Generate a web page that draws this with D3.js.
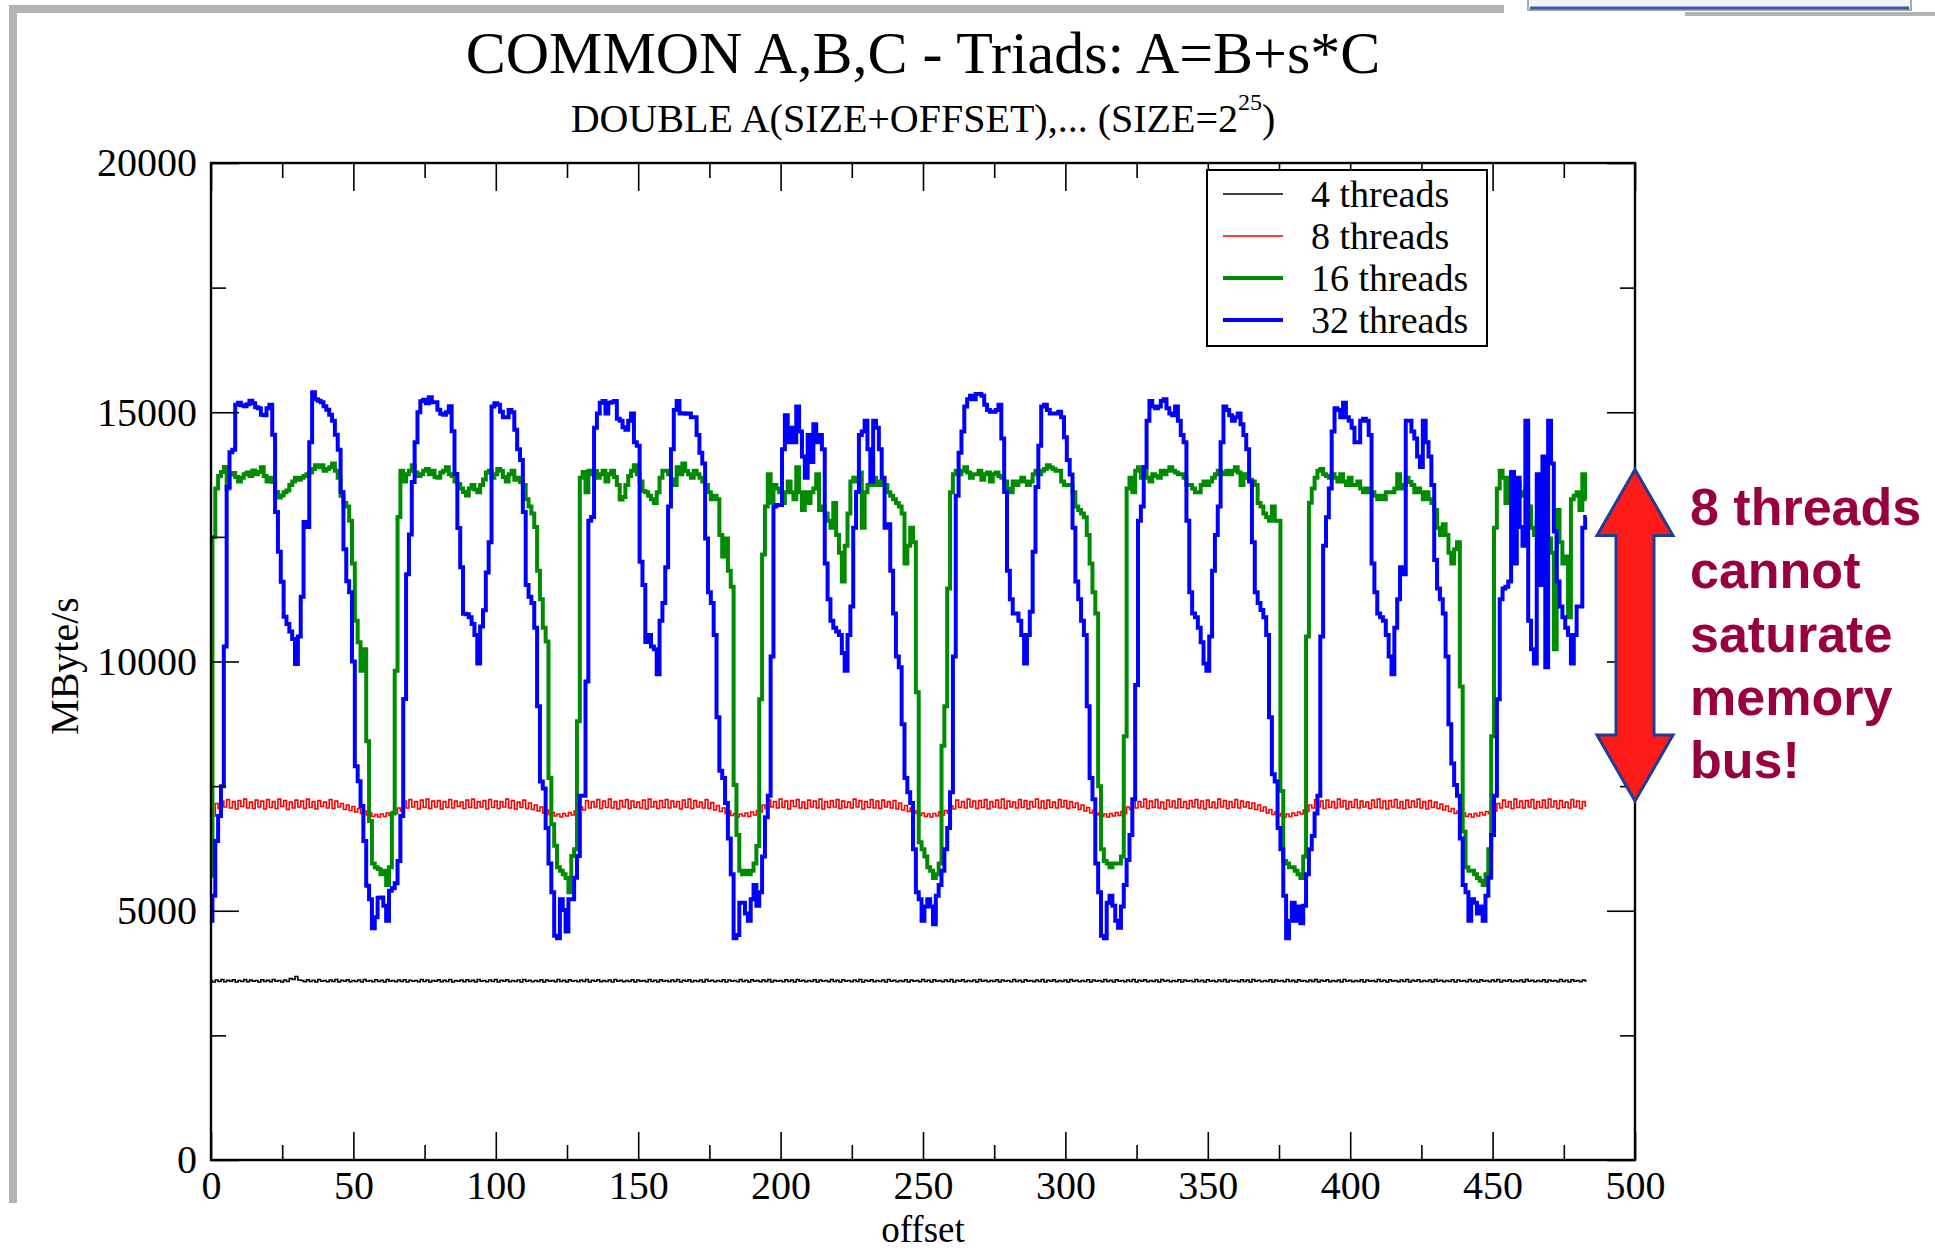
<!DOCTYPE html>
<html><head><meta charset="utf-8">
<script src="https://cdn.jsdelivr.net/npm/d3@7"></script>
<style>html,body{margin:0;padding:0;background:#fff;} svg{display:block;}</style>
</head><body>
<svg id="chart" width="1935" height="1250"></svg>
<script>
// ---------------- DATA ----------------
const seriesNames = ["4 threads", "8 threads", "16 threads", "32 threads"];
const xTickValues = [0, 50, 100, 150, 200, 250, 300, 350, 400, 450, 500];
const xMinorTicks = [25, 75, 125, 175, 225, 275, 325, 375, 425, 475];
const yTickValues = [0, 5000, 10000, 15000, 20000];
const yMinorTicks = [2500, 7500, 12500, 17500];
const annotationLines = ["8 threads", "cannot", "saturate", "memory", "bus!"];
const annotationRange = [7200, 13850];

const threads4 = [
3600,3570,3610,3580,3620,3575,3605,3585,3615,3570,3600,3580,3620,3575,3610,3585,3600,3570,3615,3580,
3605,3575,3620,3585,3600,3570,3610,3580,3640,3620,3680,3610,3600,3575,3615,3580,3605,3570,3620,3585,
3600,3575,3610,3580,3620,3570,3605,3585,3615,3575,3600,3580,3610,3570,3620,3585,3600,3575,3615,3580,
3605,3570,3620,3585,3600,3575,3610,3580,3615,3570,3605,3585,3600,3575,3620,3580,3610,3570,3600,3585,
3615,3575,3605,3580,3620,3570,3600,3585,3610,3575,3615,3580,3605,3570,3620,3585,3600,3575,3610,3580,
3620,3570,3605,3585,3615,3575,3600,3580,3610,3570,3620,3585,3605,3575,3600,3580,3615,3570,3610,3585,
3600,3575,3620,3580,3605,3570,3615,3585,3600,3575,3610,3580,3620,3570,3605,3585,3615,3575,3600,3580,
3610,3570,3620,3585,3605,3575,3600,3580,3615,3570,3610,3585,3600,3575,3620,3580,3605,3570,3615,3585,
3600,3575,3610,3580,3620,3570,3605,3585,3615,3575,3600,3580,3610,3570,3620,3585,3605,3575,3600,3580,
3615,3570,3610,3585,3600,3575,3620,3580,3605,3570,3615,3585,3600,3575,3610,3580,3620,3570,3605,3585,
3600,3575,3615,3580,3610,3570,3620,3585,3605,3575,3600,3580,3615,3570,3610,3585,3600,3575,3620,3580,
3605,3570,3615,3585,3600,3575,3610,3580,3620,3570,3605,3585,3615,3575,3600,3580,3610,3570,3620,3585,
3605,3575,3600,3580,3615,3570,3610,3585,3600,3575,3620,3580,3605,3570,3615,3585,3600,3575,3610,3580,
3620,3570,3605,3585,3615,3575,3600,3580,3610,3570,3620,3585,3605,3575,3600,3580,3615,3570,3610,3585,
3600,3575,3620,3580,3605,3570,3615,3585,3600,3575,3610,3580,3620,3570,3605,3585,3615,3575,3600,3580,
3610,3570,3620,3585,3605,3575,3600,3580,3615,3570,3610,3585,3600,3575,3620,3580,3605,3570,3615,3585,
3600,3575,3610,3580,3620,3570,3605,3585,3615,3575,3600,3580,3610,3570,3620,3585,3605,3575,3600,3580,
3615,3570,3610,3585,3600,3575,3620,3580,3605,3570,3615,3585,3600,3575,3610,3580,3620,3570,3605,3585,
3600,3575,3615,3580,3610,3570,3620,3585,3605,3575,3600,3580,3615,3570,3610,3585,3600,3575,3620,3580,
3605,3570,3615,3585,3600,3575,3610,3580,3620,3570,3605,3585,3615,3575,3600,3580,3610,3570,3620,3585,
3605,3575,3600,3580,3615,3570,3610,3585,3600,3575,3620,3580,3605,3570,3615,3585,3600,3575,3610,3580,
3620,3570,3605,3585,3615,3575,3600,3580,3610,3570,3620,3585,3605,3575,3600,3580,3615,3570,3610,3585,
3600,3575,3620,3580,3605,3570,3615,3585,3600,3575,3610,3580,3620,3570,3605,3585,3615,3575,3600,3580,
3610,3570,3620,3585,3605,3575,3600,3580,3615,3570,3610,3585,3600,3575,3620,3580,3605,3570,3615,3585,
3600,3575,3610,3590];

const threads8 = [
7000,6900,7150,7050,7200,7080,7230,7060,7190,7040,7210,7090,7240,7060,7180,7050,7220,7080,7200,7040,
7230,7070,7190,7050,7240,7090,7210,7030,7180,7060,7220,7080,7200,7050,7240,7070,7190,7040,7210,7090,
7180,7060,7230,7050,7200,7080,7150,7030,7120,7010,7090,6980,7050,6950,7000,6920,6960,6890,6930,6880,
6940,6890,6960,6910,6990,6950,7060,7000,7200,7060,7230,7080,7190,7040,7220,7070,7240,7050,7200,7080,
7210,7040,7190,7070,7230,7060,7200,7090,7180,7050,7220,7070,7240,7060,7190,7080,7210,7040,7230,7070,
7200,7050,7190,7080,7240,7060,7210,7040,7180,7070,7220,7050,7160,7030,7120,7000,7080,6960,7020,6930,
6970,6900,6940,6880,6950,6900,6970,6920,7000,6960,7080,7020,7210,7060,7190,7080,7230,7050,7200,7070,
7240,7060,7190,7040,7210,7080,7230,7050,7200,7070,7180,7060,7220,7040,7240,7080,7190,7050,7210,7070,
7230,7060,7200,7080,7190,7040,7220,7070,7240,7050,7210,7080,7180,7060,7230,7050,7170,7020,7110,6990,
7060,6950,7000,6910,6950,6880,6940,6900,6960,6890,6980,6920,7010,6980,7120,7050,7220,7080,7190,7060,
7240,7070,7200,7040,7210,7090,7230,7060,7180,7050,7220,7080,7200,7060,7240,7040,7190,7070,7210,7080,
7230,7050,7200,7070,7180,7060,7240,7080,7210,7040,7190,7070,7230,7060,7200,7050,7220,7080,7190,7060,
7210,7040,7160,7020,7110,6990,7060,6950,7000,6910,6960,6890,6940,6880,6950,6900,6980,6920,7010,6960,
7100,7040,7220,7070,7190,7060,7240,7080,7200,7050,7210,7070,7230,7040,7190,7080,7220,7060,7240,7050,
7200,7080,7180,7060,7230,7070,7210,7040,7190,7080,7240,7060,7200,7050,7220,7070,7180,7060,7230,7080,
7210,7050,7190,7070,7160,7030,7120,7000,7070,6960,7010,6920,6960,6890,6940,6880,6950,6900,6970,6910,
6990,6950,7080,7030,7210,7060,7190,7080,7240,7050,7200,7070,7230,7060,7180,7040,7220,7080,7200,7060,
7240,7070,7190,7050,7210,7080,7230,7060,7200,7040,7220,7070,7180,7060,7240,7080,7210,7050,7190,7070,
7230,7060,7200,7080,7180,7050,7160,7030,7120,7000,7080,6960,7030,6930,6980,6900,6950,6880,6940,6890,
6960,6910,6980,6940,7020,6990,7120,7060,7230,7080,7200,7050,7220,7070,7190,7060,7240,7080,7210,7040,
7190,7070,7230,7060,7200,7080,7180,7050,7220,7070,7240,7060,7200,7040,7210,7080,7230,7060,7190,7050,
7220,7070,7200,7080,7240,7060,7190,7040,7210,7070,7180,7050,7140,7020,7100,6990,7050,6950,7000,6910,
6960,6890,6940,6880,6950,6900,6970,6920,6990,6950,7040,7000,7150,7060,7220,7080,7190,7050,7240,7070,
7200,7060,7210,7080,7230,7050,7190,7070,7220,7060,7240,7080,7200,7050,7210,7070,7180,7060,7230,7080,
7200,7050,7190,7100];

const threads16 = [
5700,12500,13470,13720,13800,13900,13470,13750,13780,13700,
13612,13684,13756,13790,13720,13830,13756,13800,13899,13720,
13612,13684,13600,13400,13290,13330,13397,13430,13541,13612,
13684,13648,13684,13720,13756,13792,13863,13935,13899,13935,
13827,13863,13899,13971,13827,13684,13326,13182,13111,12824,
11965,10818,10388,9815,10245,8400,6800,5946,5874,5840,
5731,5800,5516,5874,6949,9815,12900,13827,13612,13756,
13827,13935,13792,13720,13756,13827,13863,13756,13827,13700,
13684,13792,13827,13899,13756,13720,13612,13560,13470,13400,
13330,13469,13541,13450,13397,13541,13650,13792,13827,13684,
13756,13860,13827,13700,13612,13756,13827,13648,13684,13600,
13541,13254,13111,12968,12700,11821,11248,10675,10400,7665,
6734,6304,5874,5803,5731,5659,5373,6100,6232,8800,
13684,13800,13397,13827,13756,13820,13684,13756,13827,13612,
13756,13827,13700,13541,13250,13300,13541,13720,13827,13935,
13756,13612,13420,13397,13326,13254,13182,13397,13684,13827,
13827,13756,13650,13541,13899,13756,13971,13820,13756,13684,
13827,13756,13684,13612,13541,13397,13254,13326,13254,12538,
12108,12466,11821,11500,7522,6519,5803,5731,5803,5731,
5803,5946,6300,9242,12144,13111,13756,13185,13541,13470,
13397,13182,13397,13612,13397,13254,13899,13397,13039,13397,
13182,13397,13469,13756,13039,13111,12968,12824,12681,13182,
12538,12180,11606,12323,12968,13612,13684,13612,13792,12681,
13397,13541,13541,13684,13541,13612,13541,13541,13397,13326,
13254,13182,13111,12968,11965,12323,12681,12394,9385,6376,
6232,6089,5874,5803,5659,5731,5946,8310,9100,11463,
13397,13756,13827,13756,13827,13899,13792,13684,13756,13756,
13827,13648,13756,13792,13612,13756,13792,13720,13684,13612,
13469,13397,13612,13541,13612,13684,13612,13541,13612,13756,
13827,13756,13827,13863,13935,13899,13863,13827,13827,13612,
13541,13541,13541,13397,13111,13039,12968,12896,12538,11965,
11391,10962,7500,6232,6000,5946,5874,5946,5946,5946,
6089,8500,13470,13684,13397,13827,13899,13684,13827,13684,
13612,13756,13720,13684,13827,13756,13827,13899,13827,13792,
13756,13756,13684,13541,13541,13469,13397,13397,13541,13612,
13541,13612,13684,13756,13827,13792,13756,13827,13756,13827,
13899,13792,13541,13756,13684,13648,13612,13541,13182,13111,
12968,12896,12824,13111,12824,12824,7400,6000,5946,5874,
5874,5803,5731,5659,6089,10500,13183,13469,13684,13827,
13863,13756,13720,13684,13756,13684,13612,13756,13612,13541,
13684,13541,13541,13612,13469,13397,13469,13397,13397,13326,
13254,13326,13254,13397,13397,13397,13469,13756,13469,13541,
13684,13600,13541,13397,13469,13397,13254,13397,13254,13182,
13039,12681,12538,12753,12538,12180,11965,12251,12394,9500,
6590,5874,5803,5803,5731,5659,5600,5516,5731,6232,
8500,12681,13469,13827,13684,13182,13684,13756,13612,13541,
13397,13326,13469,13111,12681,12538,12824,12681,12538,12681,
12466,12180,10245,13039,12394,11965,12108,10890,13254,13326,
13397,13039,13756,13254];

const threads32 = [
4800,5300,6400,6900,7500,10300,13500,14200,14250,15150,
15190,15140,15120,15160,15230,15180,15100,15080,14950,14940,
15080,15150,14550,13000,12200,11600,10900,10750,10600,10450,
9950,10500,11300,12800,12700,14400,15400,15260,15230,15200,
15120,15050,14950,14830,14550,14250,13400,12250,11610,11390,
10000,7900,7600,7100,6400,5500,5230,4650,4870,5260,
5265,5100,4800,5400,5450,5550,6000,6900,9250,11750,
12550,13600,14400,15000,15220,15250,15180,15300,15200,15200,
15050,14970,14950,15000,15120,14620,13760,12680,11890,10960,
10950,10890,10750,10530,9960,10700,11030,11785,12394,15117,
15180,15150,15010,14900,14900,15045,15000,14650,14257,14040,
13000,11535,11300,11176,10675,9100,7594,7450,6660,5946,
5373,4500,4450,5230,5015,4585,5230,5230,5660,6100,
7307,7307,9600,12824,12900,14687,14974,15190,15225,14974,
15190,15200,15225,14870,14830,14700,14650,14830,14974,14400,
14330,12000,11535,10390,10530,10300,10245,9744,10818,11176,
11893,13111,14257,15045,15225,14974,14980,14970,14974,14900,
14900,14544,14186,13970,12466,11391,11176,10532,8884,7809,
7665,7164,6448,5730,4450,4513,5158,5158,4943,4800,
5229,5516,5100,5373,6090,6877,7307,10100,13111,13140,
13140,14257,14938,14400,14687,14400,15117,14616,14114,13684,
14544,14000,14758,14400,14544,14257,11965,11248,10818,10675,
10600,10532,10173,9815,10532,11105,12681,13400,14544,14616,
14830,14257,13612,14830,14687,14257,13684,12681,12753,11821,
10961,10102,9887,8740,7665,7379,7164,6232,5373,5229,
4800,5086,5229,5086,4728,5302,5516,5803,6232,6662,
7379,10102,13326,14186,14616,15117,15260,15332,15260,15368,
15368,15332,15150,15045,15010,15010,15045,15150,14472,13400,
11821,11248,10961,10961,10818,10532,9958,10532,11000,12200,
13500,14329,15117,15150,15045,14974,14974,14974,15010,14900,
14500,14040,13750,12681,11606,11248,10818,10532,9100,7665,
7236,5946,5373,4500,4450,5158,5300,5100,4800,4657,
5086,5516,6017,6520,7236,9528,12824,13111,13900,14830,
15225,15117,15081,15117,15225,15260,15081,14974,14938,15117,
14830,14544,14400,12824,11391,10962,10890,10675,10388,9958,
9815,10500,11821,12537,13111,14400,15117,15045,14938,14830,
14900,14974,14760,14544,14257,13612,12394,11391,11176,11033,
10890,10532,8884,7737,7594,6662,6232,5302,4450,4800,
5158,4800,5086,4750,5100,5730,6232,6500,6950,7307,
10500,12323,12896,13470,14616,15081,15045,14900,15190,14900,
14830,14690,14400,14400,14830,14870,14830,14544,11965,11391,
10961,10890,10818,10532,10102,9744,10675,11248,11893,11750,
14830,14830,14616,14472,14114,13900,14830,14400,14114,13540,
12036,11463,11248,10961,10102,8740,7952,7522,7307,6448,
5516,5373,4800,5229,5158,4943,5086,4800,5300,5660,
6520,7307,9242,11248,11463,11500,11606,13800,11965,13684,
12700,12323,14830,10818,10245,9958,13756,11535,14114,9887,
14830,13970,12608,11606,11105,10890,10675,10532,9958,10532,
11105,11105,12681,12900];

const seriesValues = [threads4, threads8, threads16, threads32];
const seriesColors = ["#000000", "#ff0000", "#008b00", "#0000ff"];
const seriesWidths = [1.6, 1.6, 4, 4];

// ---------------- DRAWING ----------------
const svg = d3.select("#chart");
const serif = "'Liberation Serif','Times New Roman',Times,serif";
const sans = "'Liberation Sans',Arial,Helvetica,sans-serif";
const P = {left: 211, right: 1635, top: 163, bottom: 1160};
const x = d3.scaleLinear().domain([0, 500]).range([P.left, P.right]);
const y = d3.scaleLinear().domain([0, 20000]).range([P.bottom, P.top]);

// slide decorations
svg.append("rect").attr("x", 9).attr("y", 5).attr("width", 1495).attr("height", 8).attr("fill", "#b3b3b3");
svg.append("rect").attr("x", 9).attr("y", 13).attr("width", 8).attr("height", 1190).attr("fill", "#b3b3b3");
svg.append("rect").attr("x", 1528).attr("y", -3).attr("width", 383).attr("height", 13)
  .attr("fill", "#f2f4fa").attr("stroke", "#a9a9a9").attr("stroke-width", 2);
svg.append("line").attr("x1", 1530).attr("x2", 1909).attr("y1", 8).attr("y2", 8)
  .attr("stroke", "#3a5aa8").attr("stroke-width", 3);
svg.append("rect").attr("x", 1685).attr("y", 12).attr("width", 250).attr("height", 4).attr("fill", "#b3b3b3");

// titles
svg.append("text").attr("x", (P.left + P.right) / 2).attr("y", 73)
  .attr("text-anchor", "middle").attr("font-family", serif).attr("font-size", 60)
  .text("COMMON A,B,C - Triads: A=B+s*C");
const sub = svg.append("text").attr("x", (P.left + P.right) / 2).attr("y", 132)
  .attr("text-anchor", "middle").attr("font-family", serif).attr("font-size", 40);
sub.append("tspan").text("DOUBLE A(SIZE+OFFSET),... (SIZE=2");
sub.append("tspan").attr("font-size", 24).attr("dy", -22).text("25");
sub.append("tspan").attr("dy", 22).text(")");

// clip for data
svg.append("defs").append("clipPath").attr("id", "plotclip").append("rect")
  .attr("x", P.left).attr("y", P.top).attr("width", P.right - P.left).attr("height", P.bottom - P.top);

const gData = svg.append("g").attr("clip-path", "url(#plotclip)");
seriesValues.forEach((vals, k) => {
  const line = d3.line().curve(d3.curveStep).x((d, i) => x(i)).y(d => y(d));
  gData.append("path").datum(vals).attr("d", line)
    .attr("fill", "none").attr("stroke", seriesColors[k])
    .attr("stroke-width", seriesWidths[k]).attr("stroke-linejoin", "miter").attr("stroke-miterlimit", 2);
});

// axes
function styleAxis(g) {
  g.select(".domain").remove();
  g.selectAll("line").attr("stroke", "#000").attr("stroke-width", 1.6);
  g.selectAll("text").attr("font-family", serif).attr("font-size", 40).attr("fill", "#000");
}
const MAJ = 28, MIN = 15;
svg.append("g").attr("transform", `translate(0,${P.bottom})`)
  .call(d3.axisBottom(x).tickValues(xTickValues).tickSizeInner(-MAJ).tickSizeOuter(0).tickPadding(11).tickFormat(d3.format("d")))
  .call(styleAxis);
svg.append("g").attr("transform", `translate(0,${P.bottom})`)
  .call(d3.axisBottom(x).tickValues(xMinorTicks).tickSizeInner(-MIN).tickSizeOuter(0).tickFormat(""))
  .call(styleAxis);
svg.append("g").attr("transform", `translate(0,${P.top})`)
  .call(d3.axisTop(x).tickValues(xTickValues).tickSizeInner(-MAJ).tickSizeOuter(0).tickFormat(""))
  .call(styleAxis);
svg.append("g").attr("transform", `translate(0,${P.top})`)
  .call(d3.axisTop(x).tickValues(xMinorTicks).tickSizeInner(-MIN).tickSizeOuter(0).tickFormat(""))
  .call(styleAxis);
svg.append("g").attr("transform", `translate(${P.left},0)`)
  .call(d3.axisLeft(y).tickValues(yTickValues).tickSizeInner(-MAJ).tickSizeOuter(0).tickPadding(14).tickFormat(d3.format("d")))
  .call(styleAxis);
svg.append("g").attr("transform", `translate(${P.left},0)`)
  .call(d3.axisLeft(y).tickValues(yMinorTicks).tickSizeInner(-MIN).tickSizeOuter(0).tickFormat(""))
  .call(styleAxis);
svg.append("g").attr("transform", `translate(${P.right},0)`)
  .call(d3.axisRight(y).tickValues(yTickValues).tickSizeInner(-MAJ).tickSizeOuter(0).tickFormat(""))
  .call(styleAxis);
svg.append("g").attr("transform", `translate(${P.right},0)`)
  .call(d3.axisRight(y).tickValues(yMinorTicks).tickSizeInner(-MIN).tickSizeOuter(0).tickFormat(""))
  .call(styleAxis);

// frame
svg.append("rect").attr("x", P.left).attr("y", P.top).attr("width", P.right - P.left).attr("height", P.bottom - P.top)
  .attr("fill", "none").attr("stroke", "#000").attr("stroke-width", 2.4);

// axis titles
svg.append("text").attr("x", (P.left + P.right) / 2).attr("y", 1241.5).attr("text-anchor", "middle")
  .attr("font-family", serif).attr("font-size", 37).text("offset");
svg.append("text").attr("transform", "translate(78,666) rotate(-90)").attr("text-anchor", "middle")
  .attr("font-family", serif).attr("font-size", 40).text("MByte/s");

// legend
const lg = svg.append("g");
lg.append("rect").attr("x", 1207).attr("y", 170).attr("width", 280).attr("height", 176)
  .attr("fill", "#fff").attr("stroke", "#000").attr("stroke-width", 2);
seriesNames.forEach((name, i) => {
  const yy = 194 + i * 42;
  lg.append("line").attr("x1", 1223).attr("x2", 1283).attr("y1", yy).attr("y2", yy)
    .attr("stroke", seriesColors[i]).attr("stroke-width", seriesWidths[i]);
  lg.append("text").attr("x", 1311).attr("y", yy + 13).attr("font-family", serif).attr("font-size", 38).text(name);
});

// annotation arrow (spans 8-thread level to 16-thread plateau)
const cx = x(500), yTop = y(annotationRange[1]), yBot = y(annotationRange[0]);
const hw = 38, hl = 66, sw = 19;
const pts = [[cx, yTop], [cx + hw, yTop + hl], [cx + sw, yTop + hl], [cx + sw, yBot - hl], [cx + hw, yBot - hl],
  [cx, yBot], [cx - hw, yBot - hl], [cx - sw, yBot - hl], [cx - sw, yTop + hl], [cx - hw, yTop + hl]];
svg.append("path").attr("d", d3.line()(pts) + "Z").attr("fill", "#ff1a1a")
  .attr("stroke", "#1f3c96").attr("stroke-width", 3).attr("stroke-linejoin", "miter");

annotationLines.forEach((t, i) => {
  svg.append("text").attr("x", 1690).attr("y", 525 + i * 63.3).attr("font-family", sans)
    .attr("font-weight", "bold").attr("font-size", 52).attr("fill", "#990040").text(t);
});
</script>
</body></html>
